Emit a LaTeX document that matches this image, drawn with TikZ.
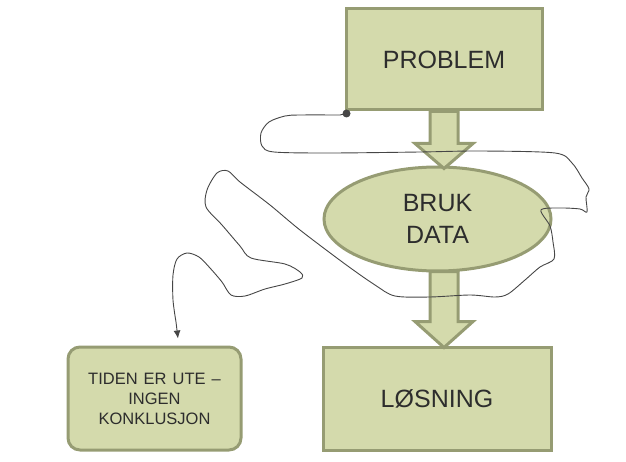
\documentclass[tikz,border=0pt]{standalone}
\usepackage{fontspec}
\setmainfont{Liberation Sans}
\usetikzlibrary{arrows.meta,shapes.geometric}

\definecolor{boxfill}{RGB}{212,218,172}
\definecolor{boxline}{RGB}{150,156,115}
\definecolor{txt}{RGB}{45,45,45}
\definecolor{pen}{RGB}{70,70,70}

\tikzset{
  box/.style={draw=boxline,fill=boxfill,line width=3pt,inner sep=0pt,text=txt,align=center},
  oval/.style={box,ellipse},
  roundbox/.style={box,rounded corners=12pt},
  blockarrow/.style={draw=boxline,fill=boxfill,line width=3pt,line join=miter},
  freehand/.style={draw=pen,line width=0.9pt,line join=round,line cap=round}
}

\begin{document}
\begin{tikzpicture}[x=1pt,y=-1pt]
\useasboundingbox (0,0) rectangle (626,462);
	\node[box,minimum width=196pt,minimum height=101pt,font=\fontsize{25}{30}\selectfont] (problem) at (444,59.5) {PROBLEM};
\node[oval,minimum width=227pt,minimum height=104pt,font=\fontsize{25}{32}\selectfont] (data) at (437.5,219) {BRUK\\DATA};
\node[box,minimum width=228pt,minimum height=103pt,font=\fontsize{25}{30}\selectfont] (losning) at (437,398.5) {LØSNING};
\node[roundbox,minimum width=173pt,minimum height=103pt,font=\fontsize{16.5}{20}\selectfont] (tiden) at (154.5,398.5) {\spaceskip=6pt\relax TIDEN ER UTE --\\INGEN\\KONKLUSJON};
\coordinate (a2) at (problem.south |- data.south);
\coordinate (dot) at ([shift={(2,2)}]problem.south west);
\coordinate (end) at ([xshift=23.5pt,yshift=7pt]tiden.north);
% block arrows
\draw[blockarrow] (problem.south) ++(-14,0) -- ++(0,32) -- ++(-15,0) -- ++(29,25) -- ++(29,-25) -- ++(-15,0) -- ++(0,-32) -- cycle;
\draw[blockarrow] (a2) ++(-14,-1) -- ++(0,50) -- ++(-15,0) -- ++(29,26) -- ++(29,-26) -- ++(-15,0) -- ++(0,-50) -- cycle;
% freehand line
\fill[pen] (dot) circle (4);
\draw[freehand,-{Latex[length=8pt,width=7pt]}] (dot) -- plot[smooth,tension=0.5] coordinates {
 (340,115) (300,115) (285,116) (269,122) (261,133) (262,146) (274,152) (330,153) (420,152) (480,151) (555,153)
 (572,163) (582,178) (589,189) (586,197) (587,212) (580,209) (560,208) (541,210) (550,226) (553,242) (554,259)
 (540,267) (525,280) (508,294) (495,297) (470,295) (430,297) (395,296) (375,285) (345,264) (300,230) (270,205)
 (240,182) (228,171) (217,173) (207,190) (206,207) (222,225) (240,246) (251,258) (285,264) (300,272) (302,278)
 (285,284) (265,289) (245,296) (231,295) (222,282) (210,268) (199,257) (187,253) (177,259) (173,275) (173,300)
 (176,322)} -- (end);
	\end{tikzpicture}
\end{document}
